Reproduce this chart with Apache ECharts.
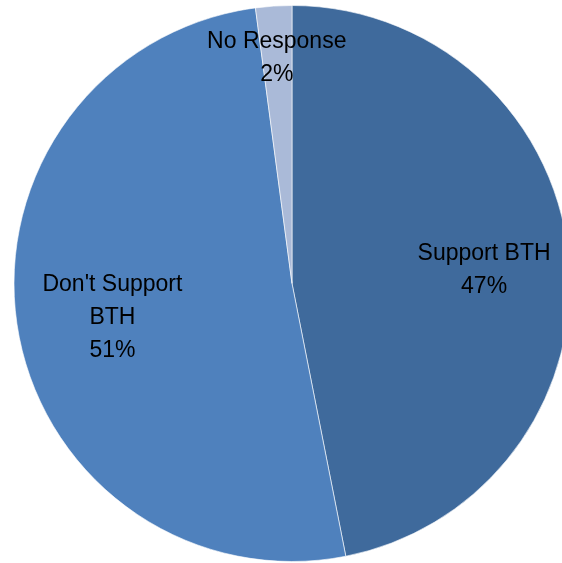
<!DOCTYPE html>
<html>
<head>
<meta charset="utf-8">
<script src="https://cdn.jsdelivr.net/npm/echarts@6/dist/echarts.min.js"></script>
<style>
html,body{margin:0;padding:0;background:#fff;}
#chart{width:562px;height:563px;}
</style>
</head>
<body>
<div id="chart"></div>
<script>
var categories = ['Support BTH', "Don't Support\nBTH", 'No Response'];
var values = [46.9, 51.0, 2.1];
var percentLabels = ['47%', '51%', '2%'];
var colors = ['#3F6A9C', '#4F81BD', '#AABAD8'];

var chart = echarts.init(document.getElementById('chart'), null, {renderer: 'canvas'});

var center = [292, 283.5];
var R = 278;
// inner radius of the transparent label ring for each category (label sits mid-ring)
var labelInner = [102, 80, 178];

var labelStyle = {
  position: 'inside',
  color: '#000',
  fontFamily: 'Liberation Sans, Arial, sans-serif',
  fontSize: 23,
  lineHeight: 33,
  align: 'center',
  formatter: function (p) { return p.name + '\n' + percentLabels[p.dataIndex]; }
};

var series = [{
  type: 'pie',
  center: center,
  radius: [0, R],
  startAngle: 90,
  clockwise: true,
  silent: true,
  label: {show: false},
  labelLine: {show: false},
  itemStyle: {borderColor: 'rgba(255,255,255,0.6)', borderWidth: 1},
  data: categories.map(function (c, i) {
    return {name: c, value: values[i], itemStyle: {color: colors[i]}};
  })
}];

categories.forEach(function (cat, k) {
  series.push({
    type: 'pie',
    center: center,
    radius: [labelInner[k], R],
    startAngle: 90,
    clockwise: true,
    silent: true,
    itemStyle: {color: 'rgba(0,0,0,0)', borderWidth: 0},
    label: labelStyle,
    labelLine: {show: false},
    labelLayout: {dy: 5},
    data: categories.map(function (c, i) {
      return {name: c, value: values[i], label: {show: i === k}};
    })
  });
});

chart.setOption({animation: false, series: series});
</script>
</body>
</html>
